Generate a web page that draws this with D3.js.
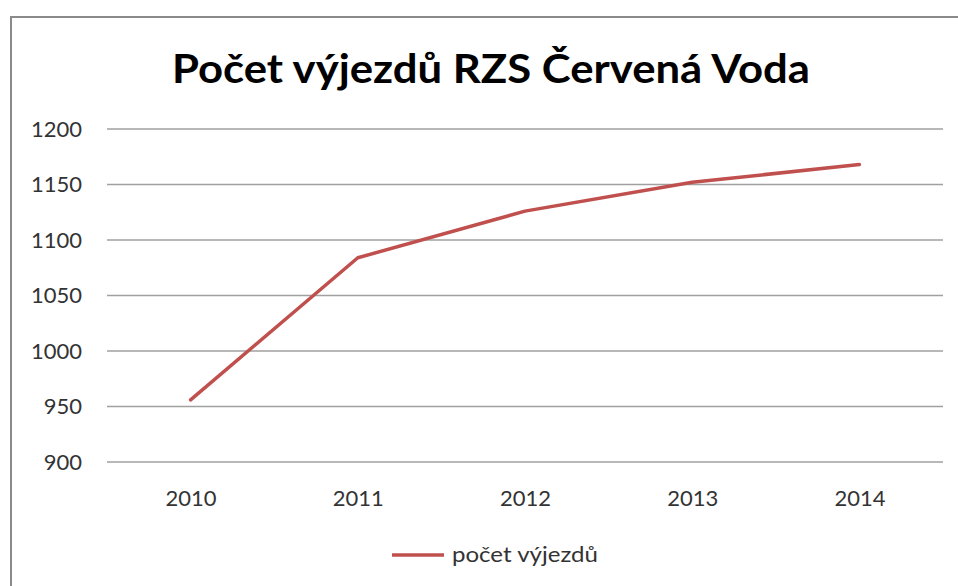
<!DOCTYPE html>
<html>
<head>
<meta charset="utf-8">
<script src="https://cdn.jsdelivr.net/npm/d3@7"></script>
<style>
  html, body { margin: 0; padding: 0; background: #fff; }
  svg { display: block; }
</style>
</head>
<body>
<script>
// Annual number of call-outs of the RZS Červená Voda ambulance station
const years = ["2010", "2011", "2012", "2013", "2014"];
const callouts = [956, 1084, 1126, 1152, 1168];
const yTicks = [900, 950, 1000, 1050, 1100, 1150, 1200];
const titleText = "Počet výjezdů RZS Červená Voda";
const seriesName = "počet výjezdů";

const W = 958, H = 586;
const plot = { left: 107, right: 943, top: 129, bottom: 462 };
const lineColor = "#C0504D";
const font = "Lato, 'Open Sans', sans-serif";
const labelColor = "#333";

const svg = d3.select("body").append("svg")
  .attr("width", W).attr("height", H);

// frame of the chart area
svg.append("rect")
  .attr("x", 11).attr("y", 17)
  .attr("width", W + 10).attr("height", H + 10)
  .attr("fill", "#fff")
  .attr("stroke", "#8a8a8a").attr("stroke-width", 2);

const x = d3.scalePoint().domain(years)
  .range([plot.left, plot.right]).padding(0.5);
const y = d3.scaleLinear().domain([900, 1200])
  .range([plot.bottom, plot.top]);

// title
const title = svg.append("text")
  .attr("x", (172 + 810) / 2).attr("y", 83)
  .attr("text-anchor", "middle")
  .attr("font-family", font).attr("font-weight", 700)
  .attr("font-size", 41).attr("fill", "#000")
  .text(titleText);
title.attr("textLength", 638).attr("lengthAdjust", "spacingAndGlyphs");

// horizontal gridlines
svg.append("g").selectAll("line").data(yTicks).join("line")
  .attr("x1", plot.left).attr("x2", plot.right)
  .attr("y1", d => y(d)).attr("y2", d => y(d))
  .attr("stroke", "#a0a0a0").attr("stroke-width", 1.3);

// y axis labels
const yAxis = svg.append("g")
  .attr("transform", `translate(${plot.left - 25},0)`)
  .call(d3.axisLeft(y).tickValues(yTicks).tickFormat(d3.format("d"))
    .tickSize(0).tickPadding(0));
yAxis.select(".domain").remove();
yAxis.selectAll("text")
  .attr("font-family", font).attr("font-size", 22).attr("fill", labelColor);

// x axis labels
const xAxis = svg.append("g")
  .attr("transform", `translate(0,${plot.bottom})`)
  .call(d3.axisBottom(x).tickSize(0).tickPadding(28));
xAxis.select(".domain").remove();
xAxis.selectAll("text")
  .attr("font-family", font).attr("font-size", 22).attr("fill", labelColor);

// series line
const data = years.map((yr, i) => ({ year: yr, value: callouts[i] }));
svg.append("path")
  .datum(data)
  .attr("fill", "none")
  .attr("stroke", lineColor).attr("stroke-width", 3.5)
  .attr("stroke-linejoin", "round").attr("stroke-linecap", "round")
  .attr("d", d3.line().x(d => x(d.year)).y(d => y(d.value)));

// legend
const legend = svg.append("g").attr("transform", "translate(392,555)");
legend.append("line")
  .attr("x1", 0).attr("x2", 52).attr("y1", 0).attr("y2", 0)
  .attr("stroke", lineColor).attr("stroke-width", 3.5);
legend.append("text")
  .attr("x", 60).attr("y", 7)
  .attr("font-family", font).attr("font-size", 22).attr("fill", labelColor)
  .attr("textLength", 146).attr("lengthAdjust", "spacingAndGlyphs")
  .text(seriesName);
</script>
</body>
</html>
